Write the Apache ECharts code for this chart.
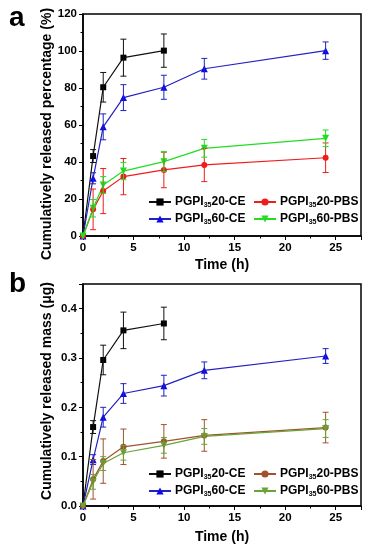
<!DOCTYPE html>
<html><head><meta charset="utf-8">
<script src="https://cdn.jsdelivr.net/npm/echarts@6/dist/echarts.min.js"></script>
<style>html,body{margin:0;padding:0;background:#fff}#c{width:367px;height:550px}</style>
</head><body><div id="c"></div>
<script>
// ---- data ----
var timesShort = [0, 1, 2, 4, 8];
var timesLong = [0, 1, 2, 4, 8, 12, 24];

var pctCE20 = [0, 43.2, 80.4, 96.4, 100.2];
var pctCE20Err = [0, 3.5, 8, 10, 9];
var pctCE60 = [0, 31.2, 59, 74.8, 80.4, 90.4, 100.2];
var pctCE60Err = [0, 3, 7, 7, 6.5, 5.6, 4.7];
var pctPBS20 = [0, 14.4, 24.3, 32.1, 35.7, 38.4, 42.3];
var pctPBS20Err = [0, 11, 12.2, 9.8, 9.6, 9, 8];
var pctPBS60 = [0, 15, 27.6, 35.1, 40.2, 47.4, 52.8];
var pctPBS60Err = [0, 4.7, 4.5, 4.7, 5.4, 4.8, 4.5];

var massCE20 = [0, 0.160, 0.296, 0.356, 0.370];
var massCE20Err = [0, 0.013, 0.030, 0.037, 0.033];
var massCE60 = [0, 0.094, 0.180, 0.228, 0.244, 0.275, 0.304];
var massCE60Err = [0, 0.010, 0.020, 0.020, 0.021, 0.017, 0.015];
var massPBS20 = [0, 0.054, 0.091, 0.120, 0.131, 0.143, 0.159];
var massPBS20Err = [0, 0.040, 0.045, 0.036, 0.034, 0.032, 0.031];
var massPBS60 = [0, 0.049, 0.086, 0.108, 0.123, 0.141, 0.157];
var massPBS60Err = [0, 0.015, 0.014, 0.015, 0.016, 0.016, 0.018];

var legendLabels = ['PGPI{s|35}20-CE', 'PGPI{s|35}60-CE', 'PGPI{s|35}20-PBS', 'PGPI{s|35}60-PBS'];
var xTicksLabels = [0, 5, 10, 15, 20, 25];

// ---- helpers ----
var FONT = 'Liberation Sans, Arial, Helvetica, sans-serif';
function pairs(xs, ys) { return xs.map(function (x, i) { return [x, ys[i]]; }); }
function triples(xs, ys, es) { return xs.map(function (x, i) { return [x, ys[i], es[i]]; }); }
var downTri = 'path://M0,0L10,0L5,8.66Z';

function lineSeries(name, idx, xs, ys, color, mcolor, symbol, size) {
  return {
    type: 'line', name: name, xAxisIndex: idx, yAxisIndex: idx,
    data: pairs(xs, ys), symbol: symbol, symbolSize: size,
    lineStyle: { color: color, width: 1.2 },
    itemStyle: { color: mcolor, borderWidth: 0 },
    z: 3, animation: false
  };
}
function errSeries(idx, xs, ys, es, color) {
  return {
    type: 'custom', xAxisIndex: idx, yAxisIndex: idx, silent: true,
    data: triples(xs, ys, es), encode: { x: 0, y: 1 }, z: 4, animation: false,
    renderItem: function (params, api) {
      var x = api.value(0), y = api.value(1), e = api.value(2);
      if (!e) return null;
      var top = api.coord([x, y + e]), bot = api.coord([x, y - e]);
      var w = 3;
      var st = { stroke: color, lineWidth: 1 };
      return { type: 'group', children: [
        { type: 'line', shape: { x1: top[0], y1: top[1], x2: bot[0], y2: bot[1] }, style: st },
        { type: 'line', shape: { x1: top[0] - w, y1: top[1], x2: top[0] + w, y2: top[1] }, style: st },
        { type: 'line', shape: { x1: bot[0] - w, y1: bot[1], x2: bot[0] + w, y2: bot[1] }, style: st }
      ]};
    }
  };
}
function xAxis(idx) {
  return {
    type: 'value', gridIndex: idx, min: 0, max: 27.5, interval: 5,
    axisLine: { show: true, onZero: false, lineStyle: { color: '#000', width: 1.5 } },
    axisTick: { show: true, inside: false, length: 4, lineStyle: { color: '#000', width: 1 } },
    minorTick: { show: true, splitNumber: 2, length: 2.5, lineStyle: { color: '#000', width: 1 } },
    splitLine: { show: false }, minorSplitLine: { show: false },
    axisLabel: { show: true, margin: 6, showMaxLabel: false, color: '#000', fontFamily: FONT, fontWeight: 'bold', fontSize: 11.5,
      formatter: function (v) { return xTicksLabels.indexOf(v) >= 0 ? String(v) : ''; } }
  };
}
function yAxis(idx, max, interval, fmt, showMax) {
  return {
    type: 'value', gridIndex: idx, min: 0, max: max, interval: interval,
    axisLine: { show: true, onZero: false, lineStyle: { color: '#000', width: 1.5 } },
    axisTick: { show: true, inside: false, length: 4, lineStyle: { color: '#000', width: 1 } },
    minorTick: { show: true, splitNumber: 2, length: 2.5, lineStyle: { color: '#000', width: 1 } },
    splitLine: { show: false }, minorSplitLine: { show: false },
    axisLabel: { show: true, margin: 6, showMaxLabel: showMax, color: '#000', fontFamily: FONT, fontWeight: 'bold', fontSize: 11.5, formatter: fmt }
  };
}
function legend(name, label, left, top) {
  return {
    show: true, data: [name], left: left, top: top, orient: 'horizontal',
    itemWidth: 22, itemHeight: 9, itemGap: 0, padding: 0,
    selectedMode: false,
    formatter: function () { return label; },
    textStyle: { color: '#000', fontFamily: FONT, fontWeight: 'bold', fontSize: 12, lineHeight: 14, padding: [0, 0, 0, -1],
      rich: { s: { fontFamily: FONT, fontWeight: 'bold', fontSize: 7, lineHeight: 7, verticalAlign: 'bottom', color: '#000' } } }
  };
}

// colors
var cBlack = '#111111', cBlue = '#2222c0', cBlueM = '#0a0ae6', cRed = '#f01c1c', cGreen = '#22dd22';
var cBrown = '#a0522d', cOlive = '#6aa336';

var chart = echarts.init(document.getElementById('c'), null, { renderer: 'canvas' });
chart.setOption({
  animation: false,
  backgroundColor: '#fff',
  grid: [
    { left: 83, top: 14, width: 278, height: 222, show: true, borderColor: '#000', borderWidth: 1.5, backgroundColor: 'transparent' },
    { left: 83, top: 284, width: 278, height: 222, show: true, borderColor: '#000', borderWidth: 1.5, backgroundColor: 'transparent' }
  ],
  xAxis: [xAxis(0), xAxis(1)],
  yAxis: [
    yAxis(0, 120, 20, function (v) { return String(v); }, true),
    yAxis(1, 0.45, 0.1, function (v) { return v.toFixed(1); }, false)
  ],
  legend: [
    legend('a20CE', legendLabels[0], 148, 195),
    legend('a20PBS', legendLabels[2], 253, 195),
    legend('a60CE', legendLabels[1], 148, 212),
    legend('a60PBS', legendLabels[3], 253, 212),
    legend('b20CE', legendLabels[0], 148, 467),
    legend('b20PBS', legendLabels[2], 253, 467),
    legend('b60CE', legendLabels[1], 148, 484),
    legend('b60PBS', legendLabels[3], 253, 484)
  ],
  graphic: [
    { type: 'text', left: 9, top: 4, style: { text: 'a', font: 'bold 28px ' + FONT, fill: '#000' } },
    { type: 'text', left: 9, top: 270, style: { text: 'b', font: 'bold 28px ' + FONT, fill: '#000' } },
    { type: 'text', x: 47, y: 134, rotation: Math.PI / 2, style: { text: 'Cumulatively released percentage (%)', font: 'bold 14px ' + FONT, fill: '#000', textAlign: 'center', textVerticalAlign: 'middle' } },
    { type: 'text', x: 47, y: 391, rotation: Math.PI / 2, style: { text: 'Cumulatively released mass (\u03bcg)', font: 'bold 14px ' + FONT, fill: '#000', textAlign: 'center', textVerticalAlign: 'middle' } },
    { type: 'text', x: 222, y: 265, style: { text: 'Time (h)', font: 'bold 14px ' + FONT, fill: '#000', textAlign: 'center', textVerticalAlign: 'middle' } },
    { type: 'text', x: 222, y: 537, style: { text: 'Time (h)', font: 'bold 14px ' + FONT, fill: '#000', textAlign: 'center', textVerticalAlign: 'middle' } }
  ],
  series: [
    lineSeries('a20CE', 0, timesShort, pctCE20, cBlack, '#000', 'rect', 6),
    lineSeries('a60CE', 0, timesLong, pctCE60, cBlue, cBlueM, 'triangle', 7),
    lineSeries('a20PBS', 0, timesLong, pctPBS20, cRed, cRed, 'circle', 6),
    lineSeries('a60PBS', 0, timesLong, pctPBS60, cGreen, cGreen, downTri, 7),
    errSeries(0, timesShort, pctCE20, pctCE20Err, cBlack),
    errSeries(0, timesLong, pctCE60, pctCE60Err, cBlue),
    errSeries(0, timesLong, pctPBS20, pctPBS20Err, cRed),
    errSeries(0, timesLong, pctPBS60, pctPBS60Err, cGreen),

    lineSeries('b20CE', 1, timesShort, massCE20, cBlack, '#000', 'rect', 6),
    lineSeries('b60CE', 1, timesLong, massCE60, cBlue, cBlueM, 'triangle', 7),
    lineSeries('b20PBS', 1, timesLong, massPBS20, cBrown, cBrown, 'circle', 6),
    lineSeries('b60PBS', 1, timesLong, massPBS60, cOlive, cOlive, downTri, 7),
    errSeries(1, timesShort, massCE20, massCE20Err, cBlack),
    errSeries(1, timesLong, massCE60, massCE60Err, cBlue),
    errSeries(1, timesLong, massPBS20, massPBS20Err, cBrown),
    errSeries(1, timesLong, massPBS60, massPBS60Err, cOlive)
  ]
});
</script>
</body></html>
